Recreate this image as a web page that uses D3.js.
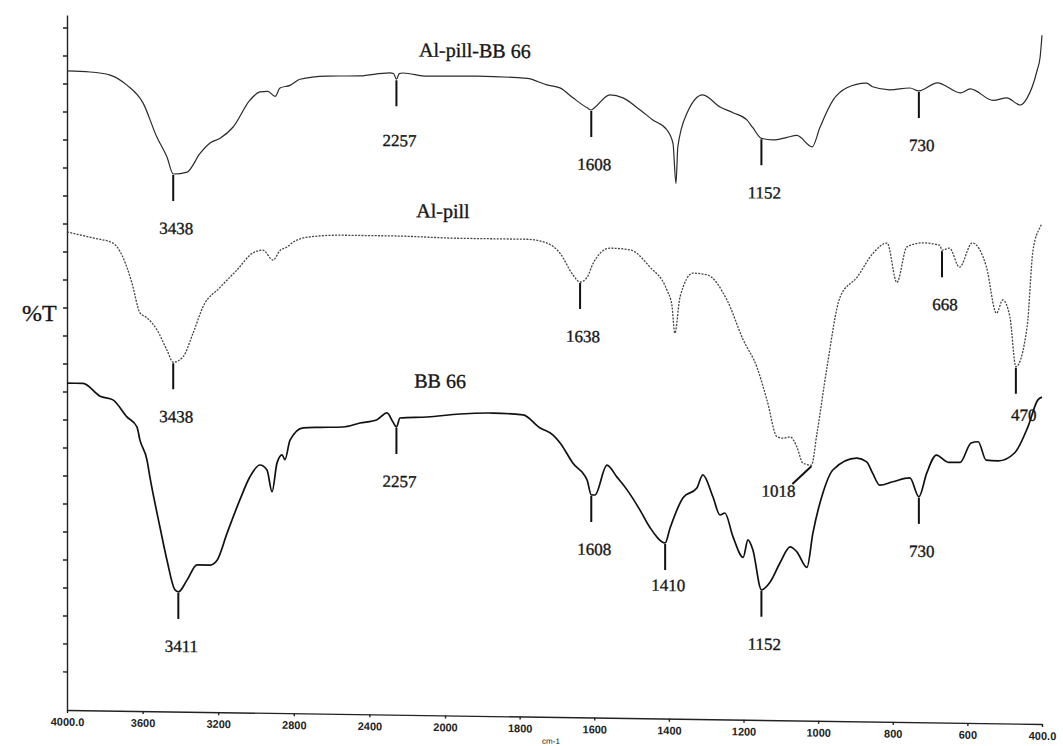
<!DOCTYPE html>
<meta charset="utf-8">
<style>
    body { margin: 0; background: #fff; }
    text { font-family: "Liberation Serif", "Times New Roman", serif; fill: #161616; stroke: #161616; stroke-width: 0.35px; }
    .axis path, .axis line { stroke: #222; stroke-width: 1.4px; }
    .axis text { font-family: "Liberation Sans", Arial, sans-serif; font-weight: bold; font-size: 11px; fill: #222; stroke: none; }
    .spectrum { fill: none; stroke-linejoin: round; }
    .peak { stroke: #111; stroke-width: 2px; }
</style>
<svg id="chart" width="1063" height="746"></svg>
<script src="https://d3js.org/d3.v7.min.js"></script>
<script>

    // x: wavenumber (cm-1), y: %T
    var alPillBB = [[4000,91.3],[3878,91.2],[3772,90.8],[3683,89.4],[3598,86.9],[3524,82.0],[3471,79.2],[3438,76.8],
        [3365,77.1],[3296,79.8],[3243,81.3],[3190,82.0],[3122,83.6],[3032,87.5],[2979,88.7],[2937,88.8],[2899,88.1],
        [2873,89.3],[2820,89.7],[2767,90.6],[2624,91.1],[2450,91.2],[2291,91.7],[2272,91.6],[2257,90.8],[2242,91.6],
        [2222,91.7],[2095,91.3],[1914,91.4],[1780,91.2],[1727,90.3],[1692,89.9],[1657,88.5],[1619,87.1],[1608,86.8],
        [1598,87.2],[1558,89.0],[1523,88.6],[1477,86.9],[1443,85.5],[1405,84.1],[1389,82.2],[1381,76.5],[1376,81.7],
        [1351,86.6],[1309,89.2],[1263,87.5],[1228,86.7],[1191,85.7],[1175,84.6],[1152,83.1],[1121,82.9],[1083,83.3],
        [1057,83.6],[1016,82.0],[995,84.8],[960,88.7],[923,90.5],[870,91.2],[854,90.7],[809,90.3],[754,90.6],
        [730,90.2],[680,91.4],[619,90.0],[592,90.6],[531,89.0],[494,89.4],[459,88.4],[440,89.4],[413,93.4],
        [405,95.3],[400,98.4]];

    var alPill = [[4000,68.3],[3862,67.5],[3757,66.8],[3704,64.8],[3656,61.1],[3614,56.9],[3577,56.2],[3524,54.5],
        [3471,51.6],[3438,49.9],[3386,50.7],[3333,54.1],[3280,57.9],[3190,60.7],[3101,63.2],[3016,65.7],[2963,66.1],
        [2910,64.7],[2873,66.1],[2836,66.6],[2804,67.3],[2714,68.1],[2540,68.4],[2275,68.4],[1960,68.2],[1780,68.2],
        [1727,67.7],[1692,66.3],[1657,63.2],[1638,62.2],[1619,62.9],[1603,64.9],[1558,67.1],[1504,66.9],[1451,64.5],
        [1405,61.2],[1392,59.1],[1384,55.1],[1370,60.3],[1335,63.7],[1298,63.5],[1244,59.9],[1201,54.3],[1164,50.4],
        [1137,45.7],[1110,40.5],[1094,40.3],[1075,40.5],[1057,39.1],[1041,36.8],[1018,36.5],[1003,41.1],[976,50.6],
        [941,60.6],[895,63.5],[853,66.9],[815,68.4],[789,62.8],[762,67.9],[719,68.5],[674,68.2],[668,67.5],
        [648,67.8],[621,65.1],[587,68.6],[549,65.2],[522,58.6],[505,60.5],[486,58.1],[470,51.0],[440,56.7],
        [424,67.7],[405,71.0],[400,71.5]];

    var bb66 = [[4000,46.7],[3915,46.7],[3825,44.9],[3757,44.4],[3683,42.0],[3630,40.6],[3614,38.7],[3577,35.9],
        [3561,33.4],[3508,26.3],[3471,21.6],[3429,17.4],[3411,17.1],[3365,18.8],[3312,21.0],[3243,21.0],[3206,21.7],
        [3153,25.6],[3085,30.4],[3032,33.7],[2979,35.4],[2942,34.7],[2915,31.6],[2889,35.7],[2862,36.9],[2847,36.2],
        [2820,39.0],[2751,40.8],[2661,40.9],[2540,41.0],[2450,41.6],[2360,42.1],[2307,43.1],[2275,41.8],[2257,41.1],
        [2238,42.4],[2095,42.6],[1960,43.1],[1871,43.3],[1791,43.1],[1746,41.3],[1711,40.3],[1692,39.2],[1657,36.3],
        [1619,33.9],[1608,31.8],[1598,31.8],[1566,36.1],[1539,34.4],[1512,32.6],[1477,29.7],[1451,27.3],[1410,25.1],
        [1397,27.2],[1362,31.6],[1325,33.0],[1309,34.9],[1282,31.8],[1263,29.2],[1250,29.5],[1228,26.1],[1201,23.2],
        [1188,25.7],[1175,24.3],[1152,18.6],[1129,19.7],[1102,22.5],[1075,24.8],[1057,24.1],[1030,21.9],[1014,26.8],
        [987,32.6],[960,35.9],[896,37.6],[870,37.1],[854,35.5],[835,33.8],[800,34.3],[754,34.9],[730,32.2],
        [709,35.6],[683,38.2],[651,37.2],[620,37.2],[590,40.0],[571,40.2],[550,37.6],[518,37.5],[473,38.7],
        [438,42.4],[411,46.3],[400,46.7]];

    var seriesNames = ["Al-pill-BB 66", "Al-pill", "BB 66"];

    var peaksTop = [3438, 2257, 1608, 1152, 730];
    var peaksMid = [3438, 1638, 1018, 668, 470];
    var peaksBot = [3411, 2257, 1608, 1410, 1152, 730];

    var xTicks = [4000, 3600, 3200, 2800, 2400, 2000, 1800, 1600, 1400, 1200, 1000, 800, 600, 400];
    var yTicks = d3.range(5.5, 98, 4);

    var svg = d3.select("#chart");

    // the scan is slightly skewed
    var k = 0.0144;
    var g = svg.append("g")
        .attr("transform", "matrix(1," + k + ",0,1,0," + (-k * 555) + ")");

    // IR x axis: 4000-2000 compressed, 2000-400 expanded
    var x = d3.scaleLinear().domain([4000, 2000, 400]).range([67, 445, 1042]);
    var y = d3.scaleLinear().domain([0, 99.3]).range([717, 22]);

    g.append("g")
        .attr("class", "axis")
        .attr("transform", "translate(0," + y(0) + ")")
        .call(d3.axisBottom(x)
            .tickValues(xTicks)
            .tickSize(3)
            .tickSizeOuter(0)
            .tickPadding(5)
            .tickFormat(function(d) { return (d === 4000 || d === 400) ? d.toFixed(1) : d; }));

    g.append("g")
        .attr("class", "axis")
        .attr("transform", "translate(" + x(4000) + ",0)")
        .call(d3.axisLeft(y).tickValues(yTicks).tickSize(4).tickSizeOuter(0).tickFormat(""));

    g.append("text")
        .attr("x", 551).attr("y", 744)
        .attr("text-anchor", "middle")
        .style("font-family", "Liberation Sans, Arial, sans-serif")
        .style("font-size", "8px")
        .style("stroke", "none")
        .text("cm-1");

    svg.append("text")
        .attr("x", 22).attr("y", 321)
        .style("font-size", "24px")
        .text("%T");

    var line = d3.line()
        .curve(d3.curveMonotoneX)
        .x(function(d) { return x(d[0]); })
        .y(function(d) { return y(d[1]); });

    var series = [
        { data: alPillBB, peaks: peaksTop, stroke: "#2a2a2a", width: 1.2, dash: null, label: [1920, 94.1] },
        { data: alPill, peaks: peaksMid, stroke: "#444", width: 1.3, dash: "2,1.3", label: [2011, 71.1] },
        { data: bb66, peaks: peaksBot, stroke: "#111", width: 1.7, dash: null, label: [2026, 46.8] }
    ];

    // label placement tweaks for a few peaks
    var tweak = {
        "0-2257": { gap: 40 },
        "1-470": { gap: 27, dx: 5 },
        "1-1018": { slant: true },
        "2-1410": { gap: 21 }
    };

    series.forEach(function(s, i) {
        g.append("path")
            .datum(s.data)
            .attr("class", "spectrum")
            .attr("d", line)
            .style("stroke", s.stroke)
            .style("stroke-width", s.width)
            .style("stroke-dasharray", s.dash);

        g.append("text")
            .attr("x", x(s.label[0])).attr("y", y(s.label[1]))
            .attr("text-anchor", "middle")
            .style("font-size", "20px")
            .text(seriesNames[i]);

        s.peaks.forEach(function(wn) {
            var pt = s.data.find(function(d) { return d[0] === wn; });
            var px = x(wn), py = y(pt[1]) + 1;
            var t = tweak[i + "-" + wn] || {};
            var lx, ly, tx, ty;
            if (t.slant) {
                lx = px - 19; ly = py + 18;
                tx = px - 33; ty = py + 31;
            } else {
                lx = px; ly = py + 26;
                tx = px + 3 + (t.dx || 0); ty = ly + (t.gap || 33);
            }
            g.append("line")
                .attr("class", "peak")
                .attr("x1", px).attr("y1", py)
                .attr("x2", lx).attr("y2", ly);
            g.append("text")
                .attr("x", tx).attr("y", ty)
                .attr("text-anchor", "middle")
                .style("font-size", "17px")
                .text(wn);
        });
    });

</script>
